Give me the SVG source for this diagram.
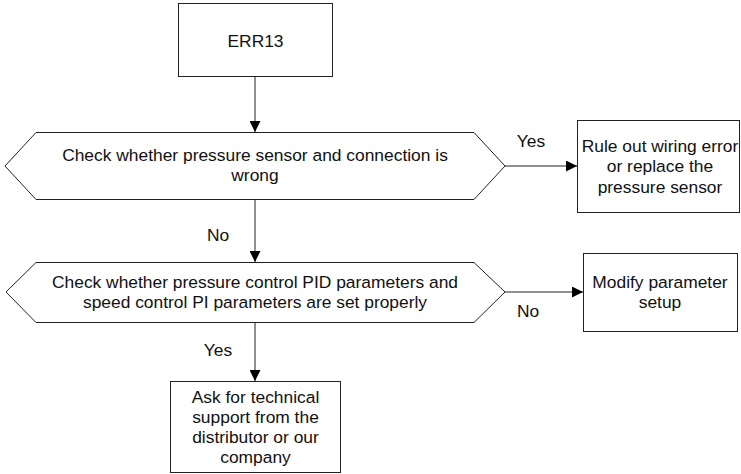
<svg xmlns="http://www.w3.org/2000/svg" width="741" height="474" viewBox="0 0 741 474">
<style>
.s{fill:#fff;stroke:#222;stroke-width:1}
.t{font-family:"Liberation Sans",Arial,sans-serif;font-size:17.4px;fill:#111;text-anchor:middle}
.c{fill:none;stroke:#222;stroke-width:1}
</style>
<defs>
<marker id="ah" markerUnits="userSpaceOnUse" markerWidth="11" markerHeight="11" refX="11" refY="5.5" orient="auto">
<path d="M0,0 L11,5.5 L0,11 z" fill="#000"/>
</marker>
</defs>
<rect width="741" height="474" fill="#fff"/>
<g id="connectors">
<line class="c" x1="255" y1="76" x2="255" y2="132" marker-end="url(#ah)"/>
<line class="c" x1="505" y1="166" x2="577" y2="166" marker-end="url(#ah)"/>
<line class="c" x1="255" y1="199" x2="255" y2="262" marker-end="url(#ah)"/>
<line class="c" x1="505" y1="292" x2="583" y2="292" marker-end="url(#ah)"/>
<line class="c" x1="255" y1="322" x2="255" y2="381" marker-end="url(#ah)"/>
<text class="t" x="531" y="147">Yes</text>
<text class="t" x="218" y="241">No</text>
<text class="t" x="528" y="317">No</text>
<text class="t" x="218" y="356">Yes</text>
</g>
<g id="err13">
<rect class="s" x="178.5" y="3.5" width="154" height="73"/>
<text class="t" x="255.5" y="46.5">ERR13</text>
</g>
<g id="check1">
<polygon class="s" points="36,132.5 474,132.5 505,166 474,199.5 36,199.5 5,166"/>
<text class="t" x="255" y="161">Check whether pressure sensor and connection is</text>
<text class="t" x="255" y="181">wrong</text>
</g>
<g id="ruleout">
<rect class="s" x="577.5" y="120.5" width="162" height="92"/>
<text class="t" x="660" y="151.5">Rule out wiring error</text>
<text class="t" x="660" y="172">or replace the</text>
<text class="t" x="660" y="192.5">pressure sensor</text>
</g>
<g id="check2">
<polygon class="s" points="36,262.5 474,262.5 505,292 474,322.5 36,322.5 6,292"/>
<text class="t" x="255" y="288">Check whether pressure control PID parameters and</text>
<text class="t" x="255" y="308">speed control PI parameters are set properly</text>
</g>
<g id="modify">
<rect class="s" x="583.5" y="253.5" width="154" height="78"/>
<text class="t" x="660" y="288">Modify parameter</text>
<text class="t" x="660" y="308">setup</text>
</g>
<g id="support">
<rect class="s" x="170.5" y="381.5" width="170" height="91"/>
<text class="t" x="255.5" y="403">Ask for technical</text>
<text class="t" x="255.5" y="423">support from the</text>
<text class="t" x="255.5" y="443">distributor or our</text>
<text class="t" x="255.5" y="463">company</text>
</g>
</svg>
